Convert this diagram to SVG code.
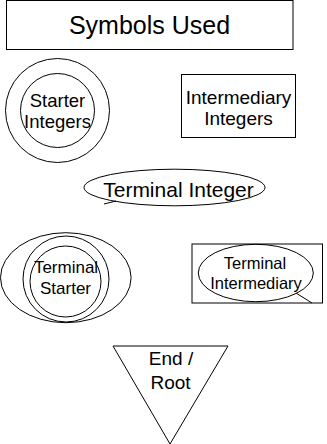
<svg xmlns="http://www.w3.org/2000/svg" width="327" height="444" viewBox="0 0 327 444">
<style>
.s{fill:none;stroke:#000;stroke-width:1}
.t{font-family:"Liberation Sans",Arial,sans-serif;fill:#000;text-anchor:middle}
</style>
<rect width="327" height="444" fill="#fff"/>
<g id="title">
<rect class="s" x="6.5" y="0.5" width="286.5" height="49"/>
<text class="t" x="149.5" y="33.5" font-size="25">Symbols Used</text>
</g>
<g id="starter-integers">
<circle class="s" cx="57.5" cy="110.5" r="52"/>
<circle class="s" cx="57.5" cy="110.5" r="37"/>
<text class="t" x="57.5" y="106.5" font-size="18.5">Starter</text>
<text class="t" x="57.5" y="128" font-size="18.5">Integers</text>
</g>
<g id="intermediary-integers">
<rect class="s" x="181.5" y="74.5" width="114" height="63"/>
<text class="t" x="238.5" y="103.5" font-size="19">Intermediary</text>
<text class="t" x="238.5" y="124.5" font-size="19">Integers</text>
</g>
<g id="terminal-integer">
<ellipse class="s" cx="174.5" cy="187.5" rx="90.5" ry="18.3"/>
<path class="s" d="M104,204 L116,201"/>
<text class="t" x="178.5" y="196.5" font-size="21">Terminal Integer</text>
</g>
<g id="terminal-starter">
<ellipse class="s" cx="65.8" cy="277.7" rx="65.3" ry="45"/>
<circle class="s" cx="66" cy="279" r="43"/>
<circle class="s" cx="65.5" cy="281.5" r="35.5"/>
<text class="t" x="66" y="272.5" font-size="17">Terminal</text>
<text class="t" x="65.5" y="294" font-size="17">Starter</text>
</g>
<g id="terminal-intermediary">
<rect class="s" x="192" y="244" width="130.5" height="59"/>
<ellipse class="s" cx="255.8" cy="273" rx="57.5" ry="28.7"/>
<path class="s" d="M296,293 L312,303"/>
<text class="t" x="255" y="268.5" font-size="16.5">Terminal</text>
<text class="t" x="256" y="289" font-size="16.5">Intermediary</text>
</g>
<g id="end-root">
<path class="s" d="M113,346 L228,346 L170,444 Z"/>
<text class="t" x="171" y="365" font-size="19">End /</text>
<text class="t" x="170.5" y="388.5" font-size="19">Root</text>
</g>
<g id="connectors"></g>
</svg>
